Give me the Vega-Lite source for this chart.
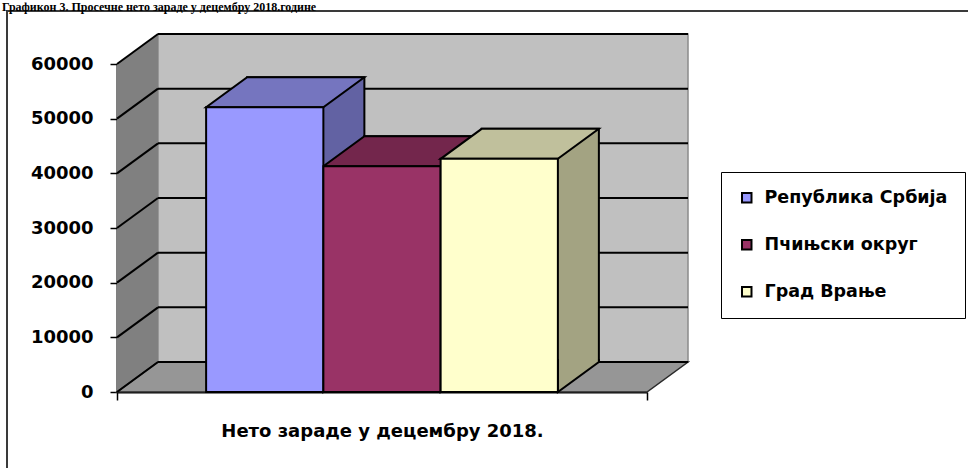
{
  "$schema": "https://vega.github.io/schema/vega-lite/v6.json",
  "autosize": "none",
  "width": 530,
  "height": 328,
  "padding": {"left": 117, "top": 64, "right": 321, "bottom": 76},
  "background": "white",
  "datasets": {
    "wages": [
      {"cat": "Нето зараде у децембру 2018.", "series": "Република Србија", "value": 52100},
      {"cat": "Нето зараде у децембру 2018.", "series": "Пчињски округ", "value": 41300},
      {"cat": "Нето зараде у децембру 2018.", "series": "Град Врање", "value": 42650}
    ],
    "ticks": [{"v": 0}, {"v": 10000}, {"v": 20000}, {"v": 30000}, {"v": 40000}, {"v": 50000}, {"v": 60000}],
    "one": [{"cat": "Нето зараде у децембру 2018.", "title": "Графикон 3. Просечне нето зараде у децембру 2018.године"}]
  },
  "data": {"name": "wages"},
  "layer": [
    {
      "data": {"name": "one"},
      "mark": {"type": "point", "shape": "M-375,200 L-375,-381 L700,-381", "filled": false, "stroke": "#3a3a3a", "strokeWidth": 2, "size": 4, "opacity": 1},
      "encoding": {
        "x": {"field": "cat", "type": "nominal", "title": null},
        "y": {"datum": 0, "type": "quantitative", "title": null, "scale": {"domain": [0, 60000]}}
      }
    },
    {
      "data": {"name": "one"},
      "mark": {"type": "text", "align": "left", "baseline": "alphabetic", "dx": -380, "dy": -53.5, "font": "Liberation Serif", "fontSize": 12, "fontWeight": "bold", "color": "black"},
      "encoding": {
        "x": {"field": "cat", "type": "nominal", "title": null},
        "y": {"datum": 60000, "type": "quantitative", "title": null},
        "text": {"field": "title"}
      }
    },
    {
      "data": {"name": "one"},
      "mark": {"type": "point", "shape": "M-224,-30 L306,-30 L306,-358 L-224,-358 Z", "filled": true, "fill": "#C0C0C0", "stroke": "#8a8a8a", "strokeWidth": 1.5, "size": 4, "opacity": 1},
      "encoding": {
        "x": {"field": "cat", "type": "nominal", "title": null},
        "y": {"datum": 0, "type": "quantitative", "title": null}
      }
    },
    {
      "data": {"name": "one"},
      "mark": {"type": "point", "shape": "M-265,0 L-265,-328 L-224,-358 L-224,-30 Z", "filled": true, "fill": "#808080", "strokeWidth": 0, "size": 4, "opacity": 1},
      "encoding": {
        "x": {"field": "cat", "type": "nominal", "title": null},
        "y": {"datum": 0, "type": "quantitative", "title": null}
      }
    },
    {
      "data": {"name": "one"},
      "mark": {"type": "point", "shape": "M-265,0 L265,0 L306,-30 L-224,-30 Z", "filled": true, "fill": "#969696", "stroke": "#2a2a2a", "strokeWidth": 1.5, "size": 4, "opacity": 1},
      "encoding": {
        "x": {"field": "cat", "type": "nominal", "title": null},
        "y": {"datum": 0, "type": "quantitative", "title": null}
      }
    },
    {
      "data": {"name": "ticks"},
      "mark": {"type": "point", "shape": "M-224,-30 L306,-30", "filled": false, "stroke": "black", "strokeWidth": 2, "size": 4, "opacity": 1},
      "encoding": {
        "x": {"datum": "Нето зараде у децембру 2018.", "type": "nominal", "title": null},
        "y": {"field": "v", "type": "quantitative", "title": null}
      }
    },
    {
      "data": {"name": "ticks"},
      "mark": {"type": "point", "shape": "M-265,0 L-224,-30", "filled": false, "stroke": "black", "strokeWidth": 2, "size": 4, "opacity": 1},
      "encoding": {
        "x": {"datum": "Нето зараде у децембру 2018.", "type": "nominal", "title": null},
        "y": {"field": "v", "type": "quantitative", "title": null}
      }
    },
    {
      "mark": {"type": "bar", "stroke": "black", "strokeWidth": 2, "yOffset": -30, "y2Offset": -30},
      "encoding": {
        "x": {"field": "cat", "type": "nominal", "title": null},
        "xOffset": {"field": "series", "type": "nominal", "scale": {"type": "band", "domain": ["Република Србија", "Пчињски округ", "Град Врање"], "paddingInner": 0, "paddingOuter": 0.76, "range": [41, 571]}},
        "y": {"field": "value", "type": "quantitative", "title": null, "stack": null},
        "y2": {"datum": 0},
        "color": {"field": "series", "type": "nominal", "legend": null, "scale": {"domain": ["Република Србија", "Пчињски округ", "Град Врање"], "range": ["#6262A3", "#62203F", "#A3A382"]}}
      }
    },
    {
      "mark": {"type": "point", "shape": "M-58.6,0 L58.6,0 L99.6,-30 L-17.6,-30 Z", "filled": true, "stroke": "black", "strokeWidth": 2, "size": 4, "opacity": 1, "strokeJoin": "miter"},
      "encoding": {
        "x": {"field": "cat", "type": "nominal", "title": null},
        "xOffset": {"field": "series", "type": "nominal", "scale": {"type": "band", "domain": ["Република Србија", "Пчињски округ", "Град Врање"], "paddingInner": 0, "paddingOuter": 0.76}},
        "y": {"field": "value", "type": "quantitative", "title": null},
        "color": {"field": "series", "type": "nominal", "legend": null, "scale": {"domain": ["Република Србија", "Пчињски округ", "Град Врање"], "range": ["#7575BF", "#73264C", "#C0C09C"]}}
      }
    },
    {
      "mark": {"type": "point", "shape": "M58.6,-33 L58.6,0 L99.6,-30 L99.6,-33", "filled": true, "stroke": "black", "strokeWidth": 2, "size": 4, "opacity": 1},
      "encoding": {
        "x": {"field": "cat", "type": "nominal", "title": null},
        "xOffset": {"field": "series", "type": "nominal", "scale": {"type": "band", "domain": ["Република Србија", "Пчињски округ", "Град Врање"], "paddingInner": 0, "paddingOuter": 0.76}},
        "y": {"datum": 0, "type": "quantitative", "title": null},
        "color": {"field": "series", "type": "nominal", "legend": null, "scale": {"domain": ["Република Србија", "Пчињски округ", "Град Врање"], "range": ["#6262A3", "#62203F", "#A3A382"]}}
      }
    },
    {
      "mark": {"type": "bar", "stroke": "black", "strokeWidth": 2},
      "encoding": {
        "x": {"field": "cat", "type": "nominal", "title": null},
        "xOffset": {"field": "series", "type": "nominal", "scale": {"type": "band", "domain": ["Република Србија", "Пчињски округ", "Град Врање"], "paddingInner": 0, "paddingOuter": 0.76}},
        "y": {"field": "value", "type": "quantitative", "title": null, "stack": null},
        "color": {
          "field": "series", "type": "nominal", "title": null,
          "scale": {"domain": ["Република Србија", "Пчињски округ", "Град Врање"], "range": ["#9999FF", "#993366", "#FFFFCC"]},
          "legend": {"orient": "none", "legendX": 604, "legendY": 108, "title": null}
        }
      }
    }
  ],
  "resolve": {"scale": {"color": "independent", "xOffset": "independent"}},
  "config": {
    "view": {"stroke": null},
    "numberFormat": "d",
    "axis": {
      "grid": false,
      "domainColor": "black",
      "domainWidth": 2,
      "tickColor": "black",
      "tickWidth": 1.5,
      "labelFont": "DejaVu Sans",
      "labelFontWeight": "bold",
      "labelFontSize": 18,
      "labelColor": "black"
    },
    "axisX": {"tickBand": "extent", "tickSize": 8, "labelPadding": 22, "labelAngle": 0, "labelLimit": 500},
    "axisY": {"tickSize": 7, "labelPadding": 17, "tickCount": 6},
    "scale": {"bandPaddingInner": 0, "bandPaddingOuter": 0},
    "legend": {
      "strokeColor": "black",
      "padding": 17,
      "symbolType": "square",
      "symbolSize": 90,
      "symbolStrokeColor": "black",
      "symbolStrokeWidth": 2,
      "symbolOffset": 0,
      "labelOffset": 9,
      "labelFont": "DejaVu Sans",
      "labelFontWeight": "bold",
      "labelFontSize": 17.5,
      "labelColor": "black",
      "rowPadding": 28,
      "labelLimit": 300
    }
  }
}
